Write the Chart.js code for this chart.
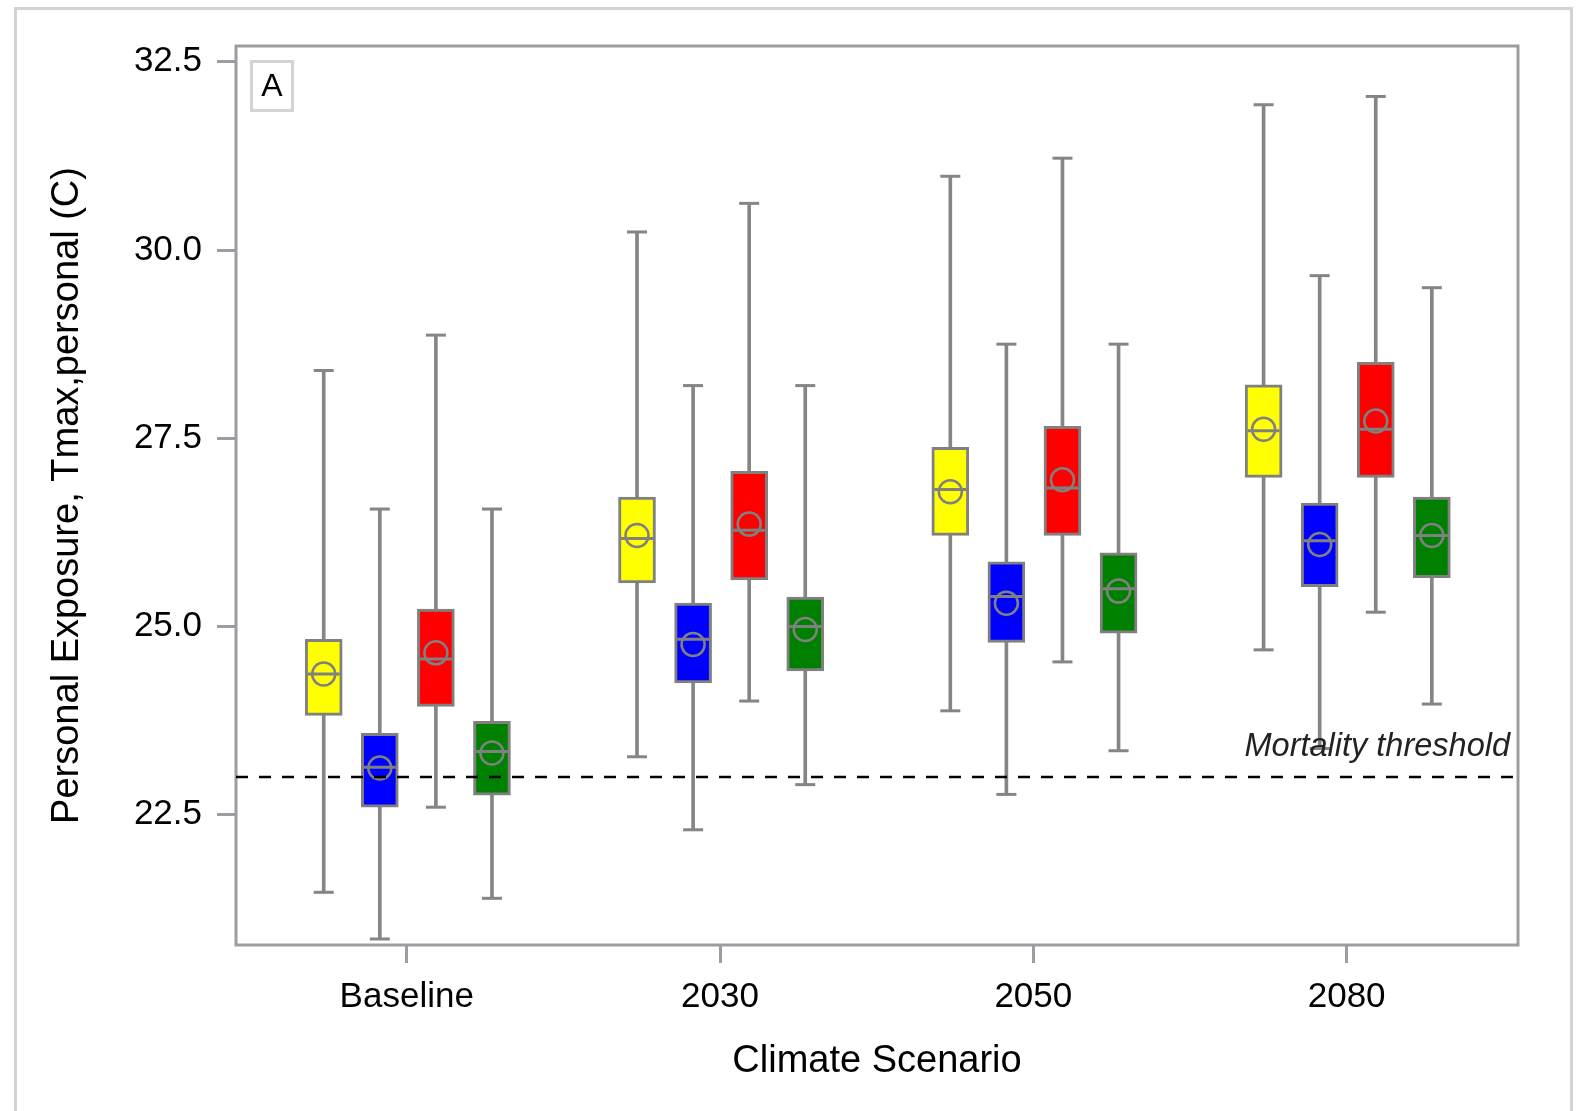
<!DOCTYPE html>
<html>
<head>
<meta charset="utf-8">
<script src="https://cdn.jsdelivr.net/npm/chart.js@4.4.1/dist/chart.umd.min.js"></script>
<style>
  html, body { margin: 0; padding: 0; background: #fff; }
  canvas { display: block; }
</style>
</head>
<body>
<canvas id="box" width="1578" height="1111"></canvas>
<script>
const categories = ['Baseline', '2030', '2050', '2080'];
const yTicks = [22.5, 25.0, 27.5, 30.0, 32.5];

// per scenario: [min, q1, median, q3, max, mean]
const yellowStats = [
  [21.47, 23.82, 24.37, 24.83, 28.40, 24.37],
  [23.27, 25.58, 26.17, 26.72, 30.24, 26.21],
  [23.88, 26.21, 26.82, 27.38, 30.98, 26.79],
  [24.69, 26.98, 27.60, 28.21, 31.93, 27.62]
];
const blueStats = [
  [20.85, 22.60, 23.13, 23.58, 26.56, 23.12],
  [22.30, 24.25, 24.83, 25.31, 28.20, 24.76],
  [22.77, 24.79, 25.40, 25.86, 28.75, 25.31],
  [23.38, 25.53, 26.14, 26.64, 29.66, 26.09]
];
const redStats = [
  [22.60, 23.94, 24.57, 25.23, 28.87, 24.65],
  [24.01, 25.62, 26.28, 27.06, 30.62, 26.36],
  [24.53, 26.21, 26.84, 27.66, 31.22, 26.95],
  [25.19, 26.98, 27.62, 28.51, 32.04, 27.73]
];
const greenStats = [
  [21.39, 22.76, 23.34, 23.74, 26.56, 23.32],
  [22.90, 24.41, 25.00, 25.39, 28.20, 24.96],
  [23.35, 24.91, 25.50, 25.98, 28.75, 25.47],
  [23.97, 25.65, 26.21, 26.72, 29.50, 26.21]
];

const thresholdValue = 23.0;
const thresholdLabel = 'Mortality threshold';
const panelLabel = 'A';

const grey = '#858585';
const font = '"Liberation Sans", Arial, sans-serif';

// colour and position inside each scenario group
const series = [
  { stats: yellowStats, color: '#ffff00', off: -0.265 },
  { stats: blueStats,   color: '#0000ff', off: -0.086 },
  { stats: redStats,    color: '#ff0000', off:  0.093 },
  { stats: greenStats,  color: '#008000', off:  0.272 }
];

const datasets = [];
series.forEach(s => {
  // whisker stem
  datasets.push({
    type: 'bar', order: 6, grouped: false, barThickness: 3,
    backgroundColor: grey, borderWidth: 0,
    data: s.stats.map((v, i) => ({ x: i + s.off, y: [v[0], v[4]] }))
  });
  // whisker caps
  datasets.push({
    type: 'scatter', order: 5,
    pointStyle: 'line', pointRadius: 10, pointHoverRadius: 10,
    pointBorderWidth: 3, pointBorderColor: grey,
    data: s.stats.flatMap((v, i) => [{ x: i + s.off, y: v[0] }, { x: i + s.off, y: v[4] }])
  });
  // box q1..q3
  datasets.push({
    type: 'bar', order: 4, grouped: false, barThickness: 37,
    backgroundColor: s.color, borderColor: '#808080', borderWidth: 3, borderSkipped: false,
    data: s.stats.map((v, i) => ({ x: i + s.off, y: [v[1], v[3]] }))
  });
  // median
  datasets.push({
    type: 'scatter', order: 3,
    pointStyle: 'line', pointRadius: 16, pointHoverRadius: 16,
    pointBorderWidth: 3, pointBorderColor: '#808080',
    data: s.stats.map((v, i) => ({ x: i + s.off, y: v[2] }))
  });
  // mean
  datasets.push({
    type: 'scatter', order: 2,
    pointStyle: 'circle', pointRadius: 11.5, pointHoverRadius: 11.5,
    pointBorderWidth: 2.5, pointBorderColor: '#808080', pointBackgroundColor: 'rgba(0,0,0,0)',
    data: s.stats.map((v, i) => ({ x: i + s.off, y: v[5] }))
  });
});

const decor = {
  id: 'decor',
  beforeDraw(chart) {
    const ctx = chart.ctx;
    ctx.save();
    ctx.fillStyle = '#fff';
    ctx.fillRect(0, 0, chart.width, chart.height);
    ctx.strokeStyle = '#d3d3d3';
    ctx.lineWidth = 3;
    ctx.strokeRect(15.5, 8.5, chart.width - 22, chart.height + 50);
    ctx.restore();
  },
  beforeDatasetsDraw(chart) {
    const ctx = chart.ctx, a = chart.chartArea;
    ctx.save();
    ctx.strokeStyle = '#9a9ea2';
    ctx.lineWidth = 3;
    ctx.strokeRect(a.left, a.top, a.right - a.left, a.bottom - a.top);
    // panel letter
    ctx.strokeStyle = '#d3d3d3';
    ctx.strokeRect(a.left + 15.5, a.top + 15.5, 41, 49);
    ctx.fillStyle = '#000';
    ctx.font = '32px ' + font;
    ctx.textAlign = 'center';
    ctx.textBaseline = 'middle';
    ctx.fillText(panelLabel, a.left + 36, a.top + 41);
    ctx.restore();
  },
  afterDatasetsDraw(chart) {
    const ctx = chart.ctx, a = chart.chartArea;
    const y = chart.scales.y.getPixelForValue(thresholdValue);
    ctx.save();
    ctx.strokeStyle = '#000';
    ctx.lineWidth = 2.5;
    ctx.setLineDash([12, 11]);
    ctx.beginPath();
    ctx.moveTo(a.left, y);
    ctx.lineTo(a.right, y);
    ctx.stroke();
    ctx.setLineDash([]);
    ctx.fillStyle = '#222';
    ctx.font = 'italic 32.5px ' + font;
    ctx.textAlign = 'right';
    ctx.textBaseline = 'middle';
    ctx.fillText(thresholdLabel, a.right - 8, y - 30);
    ctx.restore();
  }
};

new Chart(document.getElementById('box'), {
  type: 'bar',
  data: { datasets: datasets },
  plugins: [decor],
  options: {
    responsive: false,
    animation: false,
    devicePixelRatio: 1,
    layout: { padding: { top: 46, right: 60, left: 0, bottom: 0 } },
    plugins: { legend: { display: false }, tooltip: { enabled: false } },
    scales: {
      x: {
        type: 'linear', min: -0.545, max: 3.547, offset: false,
        afterBuildTicks: sc => { sc.ticks = categories.map((c, i) => ({ value: i })); },
        afterFit: sc => { sc.height = 166; },
        border: { display: false },
        grid: { offset: false, drawOnChartArea: false, drawTicks: true, tickLength: 18, tickWidth: 3, tickColor: '#9a9ea2' },
        ticks: { color: '#000', padding: 13, font: { family: font, size: 35 },
                 callback: v => categories[v] },
        title: { display: true, text: 'Climate Scenario', color: '#000',
                 font: { family: font, size: 38 }, padding: { top: 0, bottom: 27 } }
      },
      y: {
        type: 'linear', min: 20.77, max: 32.71,
        afterBuildTicks: sc => { sc.ticks = yTicks.map(v => ({ value: v })); },
        afterFit: sc => { sc.width = 236; },
        border: { display: false },
        grid: { drawOnChartArea: false, drawTicks: true, tickLength: 19, tickWidth: 3, tickColor: '#9a9ea2' },
        ticks: { color: '#000', padding: 15, font: { family: font, size: 35 },
                 callback: v => v.toFixed(1) },
        title: { display: true, text: 'Personal Exposure, Tmax,personal (C)', color: '#000',
                 font: { family: font, size: 38 }, padding: { top: 45, bottom: 0 } }
      }
    }
  }
});
</script>
</body>
</html>
